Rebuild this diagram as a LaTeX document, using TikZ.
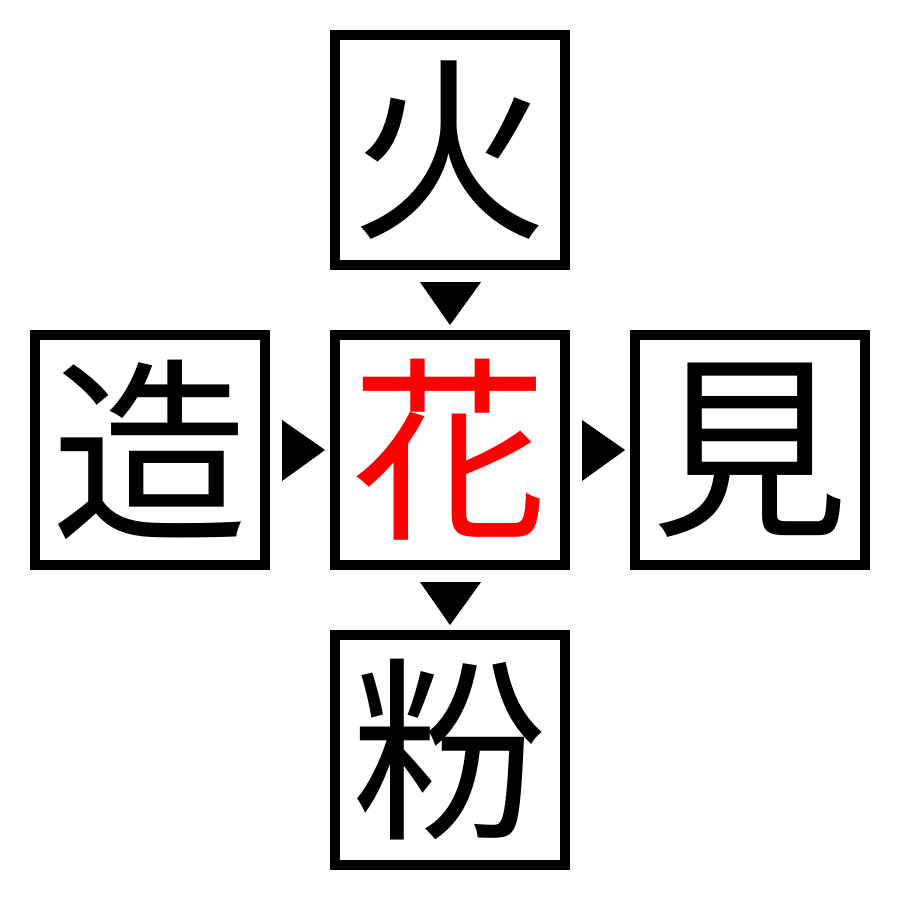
\documentclass[tikz,border=0pt]{standalone}
\usepackage{fontspec}
\newfontfamily\cjk{Noto Sans CJK JP}
\usetikzlibrary{calc}
\begin{document}
\begin{tikzpicture}[x=0.01cm,y=-0.01cm,
  kanji/.style={draw=black,line width=0.1cm,minimum size=2.3cm,inner sep=0pt,
    font=\cjk\fontsize{56pt}{56pt}\selectfont},
  tri/.style={fill=black}]
\useasboundingbox[fill=white] (0,0) rectangle (900,900);
\node[kanji] (top) at (450,150) {火};
\node[kanji,text=red] (mid) at (450,450) {花};
\node[kanji] (left) at (150,450) {造};
\node[kanji] (right) at (750,450) {見};
\node[kanji] (bot) at (450,750) {粉};
% arrowheads
\fill[tri] ($(top.south)+(-30,12)$) -- ($(top.south)+(31,12)$) -- ($(top.south)+(0,55)$) -- cycle;
\fill[tri] ($(mid.south)+(-30,12)$) -- ($(mid.south)+(31,12)$) -- ($(mid.south)+(0,55)$) -- cycle;
\fill[tri] ($(left.east)+(12,-30)$) -- ($(left.east)+(12,31)$) -- ($(left.east)+(55,0)$) -- cycle;
\fill[tri] ($(mid.east)+(12,-30)$) -- ($(mid.east)+(12,31)$) -- ($(mid.east)+(55,0)$) -- cycle;
\end{tikzpicture}
\end{document}
